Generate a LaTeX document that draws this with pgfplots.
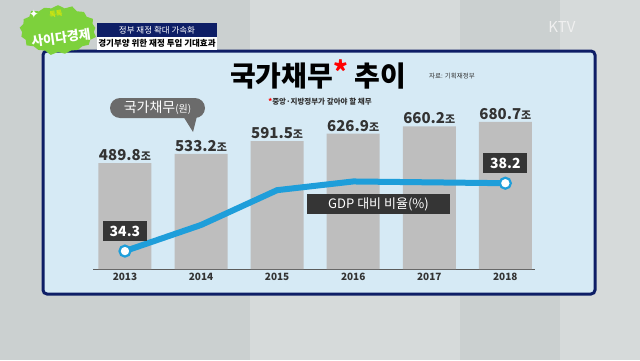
\documentclass[border=0pt]{standalone}
\usepackage{pgfplots}
\pgfplotsset{compat=1.18}
\usepackage{fontspec}
\setmainfont{Noto Sans CJK KR}
\newfontfamily\symfont{DejaVu Sans}
\usetikzlibrary{shapes.symbols}
\definecolor{bggray}{HTML}{CBD0D0}
\definecolor{bglight}{HTML}{D6DADA}
\definecolor{panelblue}{HTML}{D6EAF5}
\definecolor{navy}{HTML}{0E1E66}
\definecolor{bargray}{HTML}{BEBEBE}
\definecolor{txtdark}{HTML}{333333}
\definecolor{lineblue}{HTML}{1E9EDA}
\definecolor{boxdark}{HTML}{353535}
\definecolor{bubble}{HTML}{6B6B6B}
\definecolor{logogreen}{HTML}{7DD13C}
\begin{document}
\begin{tikzpicture}[x=1pt,y=1pt]
\useasboundingbox (0,0) rectangle (640,360);
\fill[bggray] (0,0) rectangle (640,360);
\fill[bglight] (250,0) rectangle (460,360);
\fill[bglight] (560,0) rectangle (640,360);
% panel
\filldraw[fill=panelblue,draw=navy,line width=3pt,rounded corners=4pt] (43,66) rectangle (595,309);
% logo
\node[starburst,starburst points=17,starburst point height=4pt,fill=logogreen,minimum width=80pt,minimum height=52pt,inner sep=0pt] at (58,330) {};
\node[rotate=8,text=white,font=\fontsize{13}{13}\selectfont\bfseries] at (61,322) {사이다경제};
\node[rotate=8,text=yellow!80!green,font=\fontsize{7}{7}\selectfont\bfseries] at (56,346) {톡톡};
\node[text=white,font=\symfont\fontsize{12}{12}\selectfont] at (34,346) {✦};
% banner
\fill[navy] (97,323) rectangle (217,337);
\fill[white] (97,310) rectangle (217,323);
\node[text=white,font=\fontsize{8.5}{8.5}\selectfont] at (157,330) {정부 재정 확대 가속화};
\node[text=black,font=\fontsize{8.5}{8.5}\selectfont\bfseries] at (157,316.5) {경기부양 위한 재정 투입 기대효과};
% KTV
\node[text=white!88!gray,font=\fontsize{15}{15}\selectfont] at (562,333) {KTV};
% title
\node[text=black,font=\fontsize{28}{28}\selectfont\bfseries] at (318,286) {국가채무\raisebox{4pt}{\textcolor{red}{*}} 추이};
\node[text=txtdark,font=\fontsize{6.5}{6.5}\selectfont] at (452,284) {자료: 기획재정부};
\node[text=txtdark,font=\fontsize{7.5}{7.5}\selectfont\bfseries] at (320,258) {\textcolor{red}{*}중앙·지방정부가 갚아야 할 채무};
% bubble
\fill[bubble,rounded corners=10pt] (110,242) rectangle (205,262);
\fill[bubble] (183,244) -- (193,228) -- (197,244) -- cycle;
\node[text=white] at (157.5,252) {\fontsize{14}{14}\selectfont 국가채무\fontsize{10}{10}\selectfont(원)};
% bars
\begin{axis}[
  at={(93pt,91pt)}, anchor=south west,
  scale only axis, width=442pt, height=172.8pt,
  xmin=-0.42, xmax=5.39, ymin=0, ymax=800,
  axis x line*=bottom, axis y line=none,
  x axis line style={draw=txtdark!80,line width=0.8pt,-},
  xtick={0,1,2,3,4,5}, xticklabels={2013,2014,2015,2016,2017,2018},
  major tick length=0pt,
  xticklabel style={text=txtdark,font=\fontsize{10}{10}\selectfont\bfseries,yshift=-1pt},
  clip=false,
]
\addplot[ybar, bar width=53pt, fill=bargray, draw=none,
  point meta=explicit symbolic,
  nodes near coords={\fontsize{15}{15}\selectfont\bfseries\pgfplotspointmeta{\fontsize{11}{11}\selectfont 조}},
  every node near coord/.append style={text=txtdark,anchor=south,inner sep=2pt}]
  coordinates {(0,489.8)[489.8] (1,533.2)[533.2] (2,591.5)[591.5] (3,626.9)[626.9] (4,660.2)[660.2] (5,680.7)[680.7]};
\end{axis}
% GDP ratio line
\begin{axis}[
  at={(93pt,91pt)}, anchor=south west,
  scale only axis, width=442pt, height=172.8pt,
  xmin=-0.42, xmax=5.39, ymin=33.27, ymax=43.2,
  axis lines=none, ticks=none, clip=false,
]
\addplot[lineblue, line width=6pt, mark=*, mark indices={1,6}, mark size=5.5pt,
  mark options={fill=white,draw=lineblue,line width=2.2pt}]
  coordinates {(0,34.3) (1,35.8) (2,37.8) (3,38.3) (4,38.25) (5,38.2)};
\node[fill=boxdark,text=white,font=\fontsize{14}{14}\selectfont\bfseries,minimum width=44pt,minimum height=20pt,inner sep=0pt] at (axis cs:0,34.3) [yshift=20pt] {34.3};
\node[fill=boxdark,text=white,font=\fontsize{14}{14}\selectfont\bfseries,minimum width=44pt,minimum height=20pt,inner sep=0pt] at (axis cs:5,38.2) [yshift=20pt] {38.2};
\end{axis}
\node[fill=boxdark,text=white,font=\fontsize{13}{13}\selectfont,minimum width=143pt,minimum height=20pt,inner sep=0pt] at (378.5,156) {GDP 대비 비율(\%)};
\end{tikzpicture}
\end{document}
